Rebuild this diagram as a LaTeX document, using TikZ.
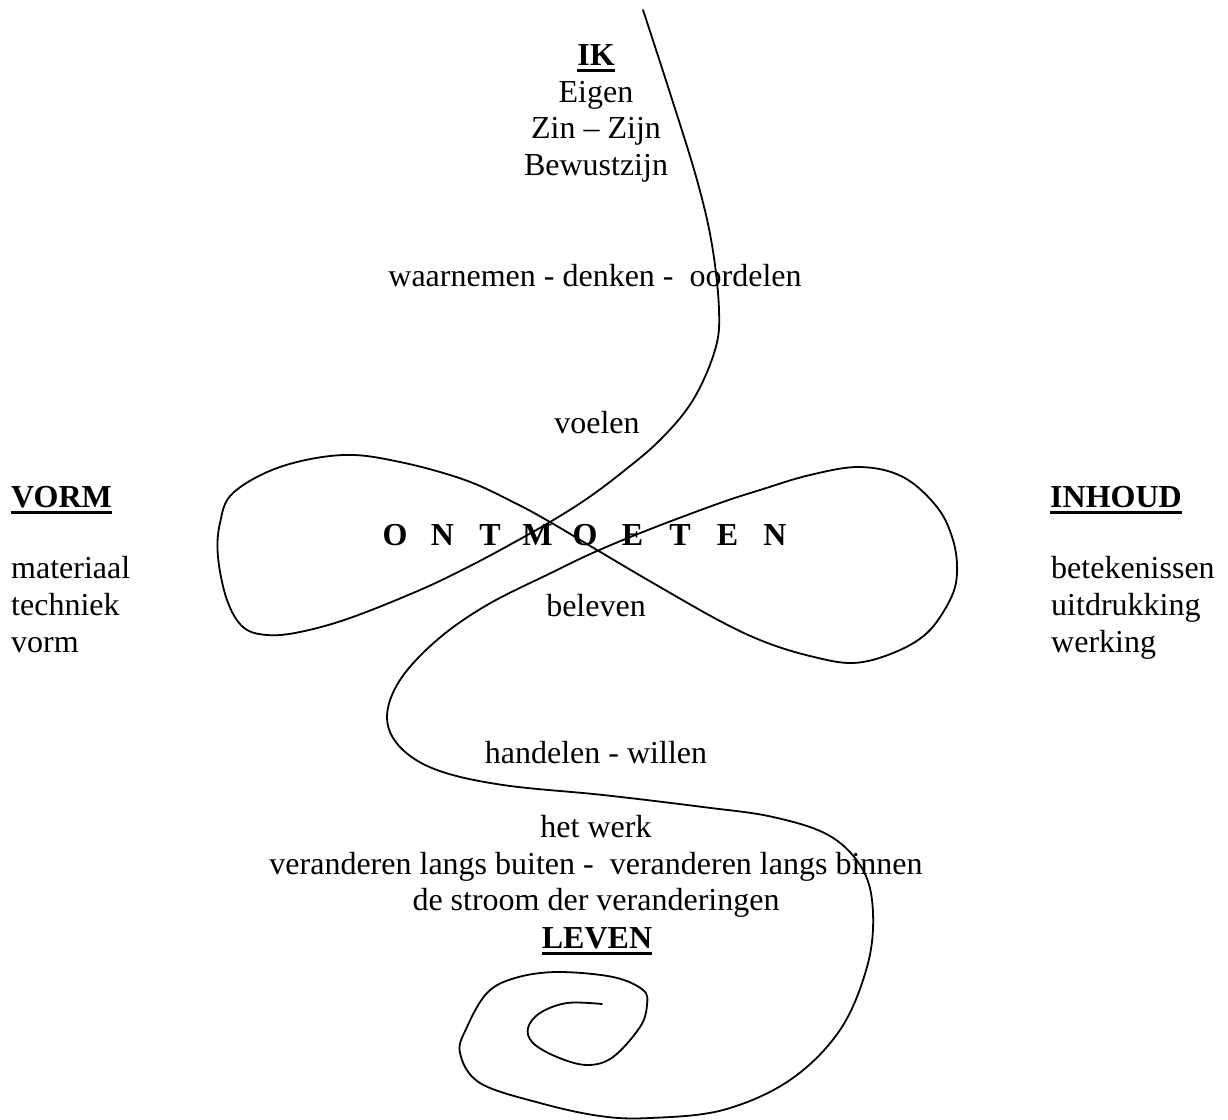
\documentclass[tikz,border=0pt]{standalone}
\usepackage{fontspec}
\setmainfont{Liberation Serif}
\newcommand\ulb[1]{\setbox0\hbox{\bfseries #1}\rlap{\rule[-6.5pt]{\wd0}{2.8pt}}\box0}
\newcommand\spreadltr[1]{\makebox[47.5pt]{#1}}
\begin{document}
\begin{tikzpicture}[x=1pt,y=-1pt,
  txt/.style={inner sep=0pt,font=\fontsize{32}{37}\selectfont},
  curve/.style={line width=1.8pt,line join=round,line cap=round}]
\useasboundingbox (0,0) rectangle (1228,1119);
% centre column
\node[txt,anchor=base] (ik) at (596,65) {\ulb{IK}};
\node[txt,anchor=base] (eigen) at (596,102) {Eigen};
\node[txt,anchor=base] (zin) at (596,138) {Zin -- Zijn};
\node[txt,anchor=base] (bew) at (596,175) {Bewustzijn};
\node[txt,anchor=base] (waar) at (595,286) {waarnemen - denken -\ \ oordelen};
\node[txt,anchor=base] (voelen) at (597,433) {voelen};
\node[txt,anchor=base] (ontm) at (585,545) {\bfseries\spreadltr{O}\spreadltr{N}\spreadltr{T}\spreadltr{M}\spreadltr{O}\spreadltr{E}\spreadltr{T}\spreadltr{E}\spreadltr{N}};
\node[txt,anchor=base] (beleven) at (596,616) {beleven};
\node[txt,anchor=base] (hand) at (596,763) {handelen - willen};
\node[txt,anchor=base] (werk) at (596,837) {het werk};
\node[txt,anchor=base] (ver) at (596,874) {veranderen langs buiten -\ \ veranderen langs binnen};
\node[txt,anchor=base] (stroom) at (596,910) {de stroom der veranderingen};
\node[txt,anchor=base] (leven) at (597,948) {\ulb{LEVEN}};
% left column
\node[txt,anchor=base west] (vorm) at (11,507) {\ulb{VORM}};
\node[txt,anchor=base west] (mat) at (11,578) {materiaal};
\node[txt,anchor=base west] (tech) at (11,615) {techniek};
\node[txt,anchor=base west] (vorm2) at (11,652) {vorm};
% right column
\node[txt,anchor=base west] (inh) at (1050,507) {\ulb{INHOUD}};
\node[txt,anchor=base west] (bet) at (1051,578) {betekenissen};
\node[txt,anchor=base west] (uit) at (1051,615) {uitdrukking};
\node[txt,anchor=base west] (werking) at (1051,652) {werking};
% the curve
\draw[curve] plot[smooth,tension=0.6] coordinates {
 (643,10) (670,93) (697,180) (712,245) (719,310) (715,350) (693,400)
 (660,440) (620,474) (585,500) (550,522) (513,543) (470,566) (420,590)
 (350,618) (300,632) (267,635) (243,627) (227,600) (218,557) (220,523)
 (233,493) (280,467) (343,455) (400,462) (465,480) (515,503) (550,522)
 (597,550) (653,583) (720,621) (765,642) (810,656) (853,663) (893,653)
 (927,633) (950,600) (957,573) (953,540) (937,507) (903,477) (860,467)
 (810,475) (760,490) (720,503) (653,528) (597,551) (553,572) (487,605)
 (437,640) (400,680) (387,717) (400,747) (437,770) (503,785) (603,795)
 (703,807) (773,817) (830,836) (863,870) (873,913) (867,967) (840,1030)
 (790,1080) (723,1110) (650,1118) (600,1116) (540,1103) (480,1083)
 (460,1053) (467,1027) (487,993) (515,978) (557,972) (613,977) (643,990)
 (647,1005) (640,1027) (613,1057) (587,1065) (557,1057) (533,1043)
 (528,1028) (540,1013) (567,1003) (602,1004)};
\end{tikzpicture}
\end{document}
